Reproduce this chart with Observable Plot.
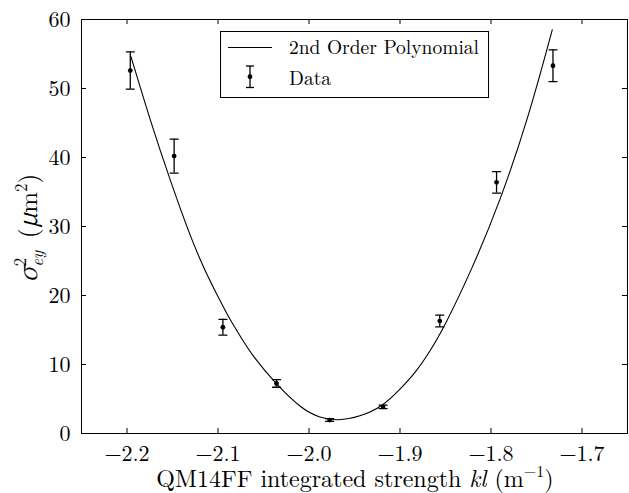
<!DOCTYPE html>
<html><head><meta charset="utf-8">
<script src="https://cdn.jsdelivr.net/npm/d3@7"></script>
<script src="https://cdn.jsdelivr.net/npm/@observablehq/plot@0.6"></script>
<style>
body{margin:0;background:#fff}
svg{display:block}
svg text, svg tspan{font-family:"Latin Modern Roman","Noto Serif CJK SC","Liberation Serif",serif !important;}
</style>
</head><body><div id="chart"></div>
<script>
// Measured data points (kl, sigma^2, error)
const xData = [-2.1964, -2.1482, -2.0946, -2.0357, -1.9773, -1.9186, -1.8563, -1.7939, -1.7319];
const yData = [52.6, 40.2, 15.4, 7.25, 1.95, 3.86, 16.3, 36.4, 53.3];
const yErr  = [2.7, 2.45, 1.15, 0.55, 0.2, 0.25, 0.85, 1.55, 2.3];
// 2nd order polynomial curve
const curveX = [-2.1956, -2.1741, -2.1526, -2.1304, -2.1141, -2.0979, -2.0869, -2.0760, -2.0614, -2.0359, -2.0067, -1.9884, -1.9683, -1.9444, -1.9186, -1.9000, -1.8833, -1.8668, -1.8515, -1.8212, -1.7901, -1.7590, -1.7327];
const curveY = [54.6, 45.2, 36.7, 28.5, 23.5, 19.3, 16.5, 14.2, 11.1, 7.1, 3.4, 2.3, 1.83, 2.4, 3.95, 6.4, 8.75, 11.95, 15.4, 23.7, 33.6, 45.7, 58.5];
const xTicks = [-2.2, -2.1, -2.0, -1.9, -1.8, -1.7];
const yTicks = [0, 10, 20, 30, 40, 50, 60];
const legendLabels = ["2nd Order Polynomial", "Data"];

const W = 629, H = 493, mL = 81, mR = 2, mT = 19, mB = 60;
const plotW = W - mL - mR, plotH = H - mT - mB;
const font = "Latin Modern Roman";

const pts = xData.map((x, i) => ({x, y: yData[i], e: yErr[i]}));
const fit = curveX.map((x, i) => ({x, y: curveY[i]}));
const hline = {draw(ctx, l) { ctx.moveTo(0, 0); ctx.lineTo(0, -l); }};
const fmtX = d => (d < 0 ? "\u2212" : "") + Math.abs(d).toFixed(1);

const chart = Plot.plot({
  width: W, height: H,
  marginLeft: mL, marginRight: mR, marginTop: mT, marginBottom: mB,
  style: {fontFamily: font, fontSize: "22px", background: "#fff", color: "#000", overflow: "visible"},
  x: {domain: [-2.25, -1.65], label: null},
  y: {domain: [0, 60], label: null},
  marks: [
    Plot.frame({stroke: "#000", strokeWidth: 1}),
    Plot.line(fit, {x: "x", y: "y", stroke: "#000", strokeWidth: 1.1, curve: "basis"}),
    Plot.ruleX(pts, {x: "x", y1: d => d.y - d.e, y2: d => d.y + d.e, stroke: "#000", strokeWidth: 1.3}),
    Plot.vector(pts, {x: "x", y: d => d.y + d.e, length: 8, rotate: 90, anchor: "middle", shape: hline, stroke: "#000", strokeWidth: 1.3}),
    Plot.vector(pts, {x: "x", y: d => d.y - d.e, length: 8, rotate: 90, anchor: "middle", shape: hline, stroke: "#000", strokeWidth: 1.3}),
    Plot.dot(pts, {x: "x", y: "y", r: 2.4, fill: "#000", stroke: null}),
    Plot.tickX(xTicks, {x: d => d, insetTop: plotH - 5, stroke: "#000"}),
    Plot.tickX(xTicks, {x: d => d, insetBottom: plotH - 5, stroke: "#000"}),
    Plot.tickY(yTicks, {y: d => d, insetRight: plotW - 5, stroke: "#000"}),
    Plot.tickY(yTicks, {y: d => d, insetLeft: plotW - 5, stroke: "#000"}),
    Plot.axisX(xTicks, {tickSize: 0, tickPadding: 12, tickFormat: fmtX, fontSize: 22, label: null}),
    Plot.axisY(yTicks, {tickSize: 0, tickPadding: 11, tickFormat: d => String(d), fontSize: 22, label: null})
  ]
});
document.getElementById("chart").append(chart);

const svg = d3.select(chart);
// Legend
const lg = svg.append("g").attr("font-family", font).attr("font-size", 19.5).attr("text-anchor", "start");
lg.append("rect").attr("x", 220.5).attr("y", 31.5).attr("width", 268).attr("height", 66)
  .attr("fill", "#fff").attr("stroke", "#000").attr("stroke-width", 1);
lg.append("line").attr("x1", 228).attr("x2", 272).attr("y1", 47.5).attr("y2", 47.5).attr("stroke", "#000").attr("stroke-width", 1.1);
lg.append("text").attr("x", 289).attr("y", 54).text(legendLabels[0]);
lg.append("line").attr("x1", 250).attr("x2", 250).attr("y1", 66).attr("y2", 87.5).attr("stroke", "#000").attr("stroke-width", 1.3);
lg.append("line").attr("x1", 246).attr("x2", 254).attr("y1", 66).attr("y2", 66).attr("stroke", "#000").attr("stroke-width", 1.3);
lg.append("line").attr("x1", 246).attr("x2", 254).attr("y1", 87.5).attr("y2", 87.5).attr("stroke", "#000").attr("stroke-width", 1.3);
lg.append("circle").attr("cx", 250).attr("cy", 76.7).attr("r", 2.4).attr("fill", "#000");
lg.append("text").attr("x", 289).attr("y", 84.5).text(legendLabels[1]);

// X axis title
const xt = svg.append("text").attr("x", 355).attr("y", 487).attr("text-anchor", "middle")
  .attr("font-family", font).attr("font-size", 24);
xt.append("tspan").text("QM14FF integrated strength ");
xt.append("tspan").attr("font-style", "italic").text("kl");
xt.append("tspan").text(" (m");
xt.append("tspan").attr("font-size", 16).attr("dy", -10).text("\u22121");
xt.append("tspan").attr("dy", 10).text(")");

// Y axis title
const yt = svg.append("text").attr("transform", "translate(37,228) rotate(-90)").attr("text-anchor", "middle")
  .attr("font-family", font).attr("font-size", 25);
yt.append("tspan").attr("font-style", "italic").text("\u03c3");
yt.append("tspan").attr("font-size", 17).attr("dy", -11).text("2");
yt.append("tspan").attr("font-size", 17).attr("font-style", "italic").attr("dx", -9).attr("dy", 17).text("ey");
yt.append("tspan").attr("dy", -6).text("\u2002(");
yt.append("tspan").attr("font-style", "italic").text("\u03bc");
yt.append("tspan").text("m");
yt.append("tspan").attr("font-size", 17).attr("dy", -10).text("2");
yt.append("tspan").attr("dy", 10).text(")");
</script>
</body></html>
